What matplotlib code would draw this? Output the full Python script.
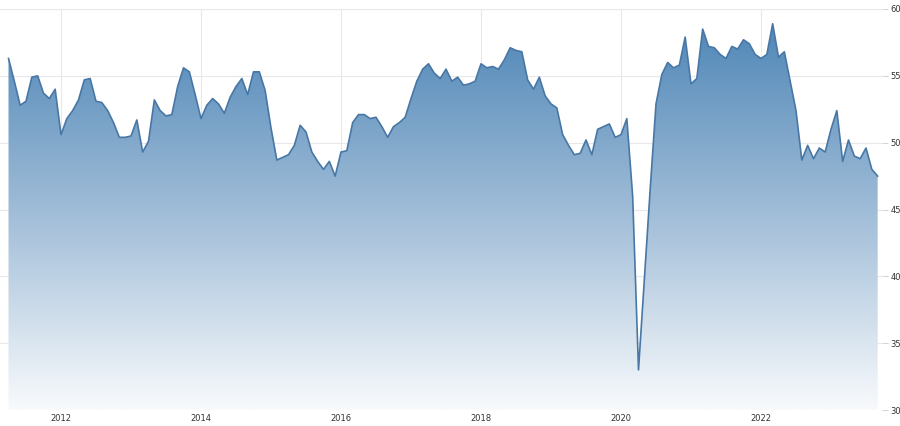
import numpy as np
import matplotlib
matplotlib.use("Agg")
import matplotlib.pyplot as plt
from matplotlib.colors import LinearSegmentedColormap

# monthly values, Apr 2011 .. Sep 2023
START_YEAR  = 2011
START_MONTH = 4

values_2011 = [56.3, 54.6, 52.8, 53.1, 54.9, 55.0, 53.7, 53.3, 54.0]
values_2012 = [50.6, 51.8, 52.4, 53.2, 54.7, 54.8, 53.1, 53.0, 52.4, 51.5, 50.4, 50.4]
values_2013 = [50.5, 51.7, 49.3, 50.1, 53.2, 52.4, 52.0, 52.1, 54.2, 55.6, 55.3, 53.6]
values_2014 = [51.8, 52.8, 53.3, 52.9, 52.2, 53.4, 54.2, 54.8, 53.6, 55.3, 55.3, 53.9]
values_2015 = [51.1, 48.7, 48.9, 49.1, 49.8, 51.3, 50.8, 49.3, 48.6, 48.0, 48.6, 47.5]
values_2016 = [49.3, 49.4, 51.5, 52.1, 52.1, 51.8, 51.9, 51.2, 50.4, 51.2, 51.5, 51.9]
values_2017 = [53.3, 54.6, 55.5, 55.9, 55.2, 54.8, 55.5, 54.6, 54.9, 54.3, 54.4, 54.6]
values_2018 = [55.9, 55.6, 55.7, 55.5, 56.2, 57.1, 56.9, 56.8, 54.7, 54.0, 54.9, 53.5]
values_2019 = [52.9, 52.6, 50.6, 49.8, 49.1, 49.2, 50.2, 49.1, 51.0, 51.2, 51.4, 50.4]
values_2020 = [50.6, 51.8, 46.0, 33.0, 39.8, 46.5, 52.9, 55.1, 56.0, 55.6, 55.8, 57.9]
values_2021 = [54.4, 54.8, 58.5, 57.2, 57.1, 56.6, 56.3, 57.2, 57.0, 57.7, 57.4, 56.6]
values_2022 = [56.3, 56.6, 58.9, 56.4, 56.8, 54.6, 52.4, 48.7, 49.8, 48.8, 49.6, 49.3]
values_2023 = [51.0, 52.4, 48.6, 50.2, 49.0, 48.8, 49.6, 48.0, 47.5]

year_ticks  = [2012, 2014, 2016, 2018, 2020, 2022]
value_ticks = [30, 35, 40, 45, 50, 55, 60]

values = np.array(values_2011 + values_2012 + values_2013 + values_2014 + values_2015
                  + values_2016 + values_2017 + values_2018 + values_2019 + values_2020
                  + values_2021 + values_2022 + values_2023)
t = START_YEAR + (START_MONTH - 1) / 12 + np.arange(len(values)) / 12

Y_MIN, Y_MAX = 30, 60
LINE_COLOR = "#4877a5"
GRID_COLOR = "#e8e8e8"

fig = plt.figure(figsize=(9, 4.26), dpi=100)
ax = fig.add_axes([0.0, 1 - 410 / 426, 882 / 900, 401 / 426])

x_lo = 2012 - 61 / 70
x_hi = 2012 + 821 / 70
ax.set_xlim(x_lo, x_hi)
ax.set_ylim(Y_MIN, Y_MAX)

# gradient fill under the line, clipped to the area polygon
cmap = LinearSegmentedColormap.from_list("fade", ["#f8fafc", "#9fbcd7", "#4a83b5"])
grad = np.linspace(0, 1, 256).reshape(-1, 1)
img = ax.imshow(grad, aspect="auto", cmap=cmap, origin="lower",
                extent=[t[0], t[-1], Y_MIN, Y_MAX], zorder=1)
area = ax.fill_between(t, values, Y_MIN, facecolor="none", edgecolor="none")
clip = area.get_paths()[0]
img.set_clip_path(clip, transform=ax.transData)

ax.plot(t, values, color=LINE_COLOR, lw=1.2, zorder=3)

ax.set_xticks(year_ticks)
ax.set_xticklabels([str(y) for y in year_ticks])
ax.set_yticks(value_ticks)
ax.yaxis.tick_right()
ax.tick_params(axis="y", length=4, width=0.6, color="#cccccc", labelsize=6,
               labelcolor="#333333", pad=2)
ax.tick_params(axis="x", length=0, labelsize=6, labelcolor="#333333", pad=3)

ax.grid(True, color=GRID_COLOR, lw=0.8, zorder=0)
ax.set_axisbelow(True)
for s in ax.spines.values():
    s.set_visible(False)

fig.savefig("out.png", dpi=100)
